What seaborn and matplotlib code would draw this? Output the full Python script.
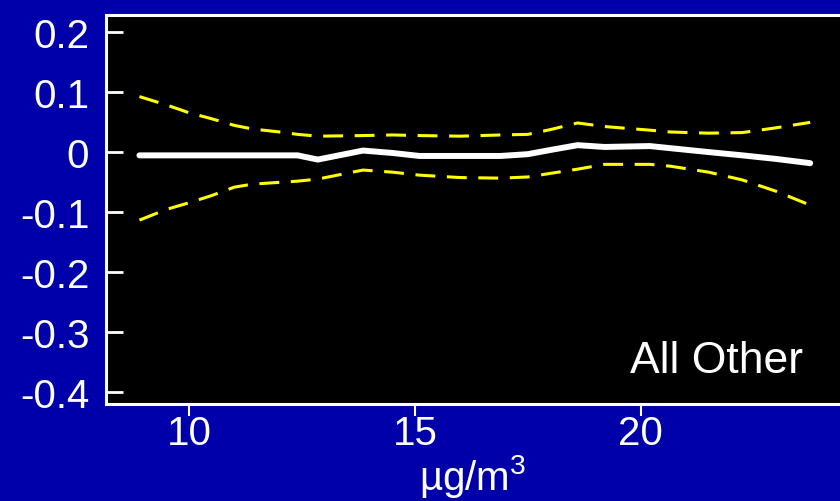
import matplotlib
matplotlib.use("Agg")
import matplotlib.pyplot as plt
import numpy as np
import pandas as pd
import seaborn as sns

# PM2.5 concentration grid (µg/m³) and the smoothed effect estimate with its band
conc = [8.9, 9.5, 10.0, 10.5, 11.0, 11.4, 12.0, 12.4, 12.85, 13.85, 14.5, 15.1,
        16.0, 16.9, 17.5, 18.0, 18.6, 19.2, 20.2, 20.65, 21.5, 22.25, 23.0, 23.75]
estimate = [-0.006, -0.006, -0.006, -0.006, -0.006, -0.006, -0.006, -0.006, -0.013,
            0.002, -0.002, -0.007, -0.007, -0.007, -0.004, 0.003, 0.011, 0.008,
            0.0095, 0.006, -0.0005, -0.006, -0.012, -0.019]
upper = [0.092, 0.078, 0.065, 0.055, 0.044, 0.038, 0.033, 0.029, 0.026, 0.027,
         0.028, 0.027, 0.026, 0.028, 0.029, 0.037, 0.048, 0.042, 0.036, 0.033,
         0.031, 0.032, 0.040, 0.049]
lower = [-0.114, -0.096, -0.085, -0.073, -0.059, -0.054, -0.051, -0.049, -0.0455,
         -0.0305, -0.034, -0.039, -0.043, -0.044, -0.042, -0.036, -0.029, -0.021,
         -0.021, -0.024, -0.034, -0.047, -0.066, -0.089]

x_ticks = [10, 15, 20]
y_ticks = [0.2, 0.1, 0.0, -0.1, -0.2, -0.3, -0.4]
y_tick_labels = ["0.2", "0.1", "0", "-0.1", "-0.2", "-0.3", "-0.4"]
panel_label = "All Other"

df = pd.DataFrame({"conc": conc, "estimate": estimate, "upper": upper, "lower": lower})

sns.set_style("ticks")
plt.rcParams["font.family"] = ["Liberation Sans", "DejaVu Sans"]
plt.rcParams["mathtext.fontset"] = "custom"
plt.rcParams["mathtext.rm"] = "Liberation Sans"
plt.rcParams["mathtext.it"] = "Liberation Sans"

BG = "#0000AA"
fig = plt.figure(figsize=(8.4, 5.02), dpi=100, facecolor=BG)
ax = fig.add_axes([106 / 840, 97 / 502, 734 / 840, 389 / 502])
ax.set_facecolor("black")

dash = (0, (6.5, 3.8))
sns.lineplot(data=df, x="conc", y="upper", ax=ax, color="#FFFF00",
             linewidth=2.2, linestyle=dash)
sns.lineplot(data=df, x="conc", y="lower", ax=ax, color="#FFFF00",
             linewidth=2.2, linestyle=dash)
sns.lineplot(data=df, x="conc", y="estimate", ax=ax, color="white",
             linewidth=4.3, solid_joinstyle="miter")

ax.set_xlim(8.16, 24.41)
ax.set_ylim(-0.4205, 0.228)

ax.set_xticks(x_ticks)
ax.set_xticklabels([str(t) for t in x_ticks])
ax.set_yticks(y_ticks)
ax.set_yticklabels(y_tick_labels)

ax.tick_params(axis="y", direction="in", length=12.5, width=2, color="white",
               labelcolor="white", labelsize=29, pad=12)
ax.tick_params(axis="x", direction="out", length=8.5, width=1.5, color="white",
               labelcolor="white", labelsize=29, pad=-1)

for side in ("left", "bottom", "top"):
    ax.spines[side].set_color("white")
    ax.spines[side].set_linewidth(2.2)
ax.spines["right"].set_visible(False)

ax.set_xlabel(r"µg/m$^{3}$", color="white", fontsize=29, labelpad=0)
ax.set_ylabel("")

ax.text(0.949, 0.083, panel_label, transform=ax.transAxes, color="white",
        fontsize=32, ha="right", va="baseline")

fig.savefig("out.png", dpi=100, facecolor=BG)
